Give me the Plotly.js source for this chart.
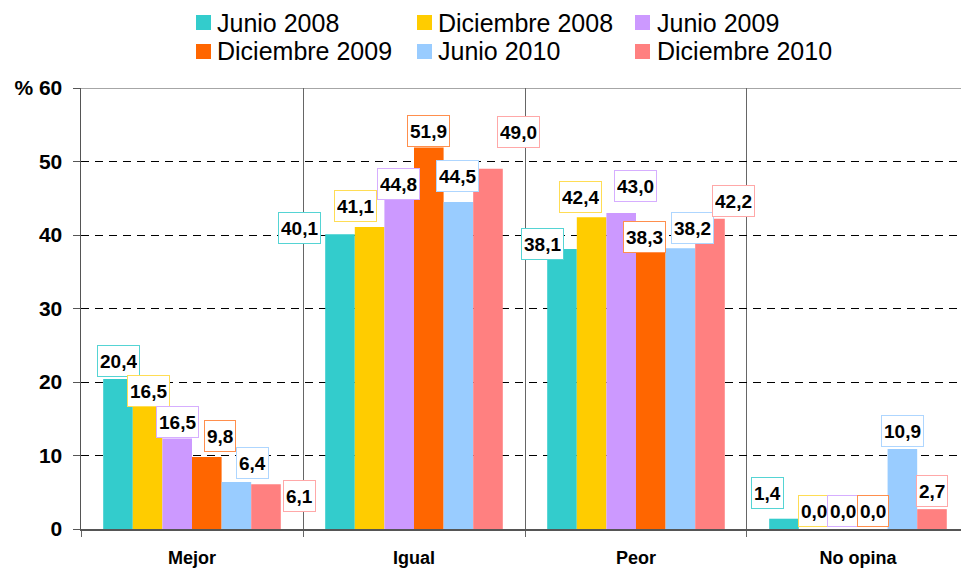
<!DOCTYPE html>
<html>
<head>
<meta charset="utf-8">
<script src="https://cdn.plot.ly/plotly-3.0.1.min.js"></script>
<style>html,body{margin:0;padding:0;background:#fff;}#chart{width:961px;height:569px;}</style>
</head>
<body>
<div id="chart"></div>
<script>
// ---- data ----
var categories = ['Mejor', 'Igual', 'Peor', 'No opina'];
var seriesNames = ['Junio 2008', 'Diciembre 2008', 'Junio 2009', 'Diciembre 2009', 'Junio 2010', 'Diciembre 2010'];
var junio2008 = [20.4, 40.1, 38.1, 1.4];
var diciembre2008 = [16.8, 41.1, 42.4, 0.0];
var junio2009 = [12.3, 44.8, 43.0, 0.0];
var diciembre2009 = [9.8, 51.9, 38.3, 0.0];
var junio2010 = [6.4, 44.5, 38.2, 10.9];
var diciembre2010 = [6.1, 49.0, 42.2, 2.7];
// data label texts as printed on the chart
var labelsJunio2008 = ['20,4', '40,1', '38,1', '1,4'];
var labelsDiciembre2008 = ['16,5', '41,1', '42,4', '0,0'];
var labelsJunio2009 = ['16,5', '44,8', '43,0', '0,0'];
var labelsDiciembre2009 = ['9,8', '51,9', '38,3', '0,0'];
var labelsJunio2010 = ['6,4', '44,5', '38,2', '10,9'];
var labelsDiciembre2010 = ['6,1', '49,0', '42,2', '2,7'];
var yTickVals = [0, 10, 20, 30, 40, 50, 60];
var yTickText = ['0', '10', '20', '30', '40', '50', '% 60'];

// ---- styles / positions ----
var barColors = ['#33CCCC', '#FFCC00', '#CC99FF', '#FF6600', '#99CCFF', '#FF8080'];
var boxColors = ['#55D4D4', '#FFDD55', '#D6AEFF', '#FF8F4D', '#AED6FF', '#FFA8A8'];
// pixel offsets [dx, dy] of each data label box relative to its bar top
var labelOffsets = [
  [[0, 2], [-41, -10], [-20, -11], [-16, 10]],
  [[1, -1], [-14, 5], [-11, 4], [0, 2]],
  [[0, 1], [-1, 0], [14, 11], [0, 2]],
  [[13, 5], [0, 1], [-6, -5], [0, 2]],
  [[16, 3], [-1, 10], [12, 4], [0, 2]],
  [[33, -28], [30, 21], [24, 2], [0, 2]]
];
// legend layout (pixels in the page)
var legendMarkerX = [196, 417, 635, 196, 417, 635];
var legendTextX = [216, 437, 656, 216, 437, 656];
var legendRowY = [22.5, 22.5, 22.5, 51.5, 51.5, 51.5];
var legendMarkerSize = 15;

var plotL = 81, plotR = 961, plotT = 88, plotB = 529;
function pxX(px) { return (px - plotL) / (plotR - plotL); }
function pxY(py) { return (plotB - py) / (plotB - plotT); }

var values = [junio2008, diciembre2008, junio2009, diciembre2009, junio2010, diciembre2010];
var labels = [labelsJunio2008, labelsDiciembre2008, labelsJunio2009, labelsDiciembre2009, labelsJunio2010, labelsDiciembre2010];

var bargap = 0.2;
var nS = seriesNames.length;
var barW = (1 - bargap) / nS;
var labelFont = {family: 'Liberation Sans, Arial, sans-serif', size: 19, color: '#000', weight: 'bold'};

var traces = [];
var annotations = [];
var shapes = [{
  type: 'line', xref: 'paper', yref: 'y', x0: 0, x1: 1, y0: 60, y1: 60,
  line: {color: '#888', width: 1.5}, layer: 'below'
}];
for (var s = 0; s < nS; s++) {
  traces.push({
    type: 'bar',
    name: seriesNames[s],
    x: categories,
    y: values[s],
    marker: {color: barColors[s], line: {width: 0}},
    hoverinfo: 'x+y+name'
  });
  for (var c = 0; c < categories.length; c++) {
    annotations.push({
      x: c - (1 - bargap) / 2 + barW * (s + 0.5),
      y: values[s][c],
      xref: 'x', yref: 'y',
      text: labels[s][c],
      showarrow: false,
      xanchor: 'center', yanchor: 'bottom',
      xshift: labelOffsets[s][c][0],
      yshift: labelOffsets[s][c][1],
      font: labelFont,
      height: 26,
      bgcolor: '#fff',
      bordercolor: boxColors[s],
      borderwidth: 1,
      borderpad: 2
    });
  }
}
for (var k = 0; k < nS; k++) {
  annotations.push({
    xref: 'paper', yref: 'paper',
    x: pxX(legendTextX[k]), y: pxY(legendRowY[k]),
    xanchor: 'left', yanchor: 'middle', align: 'left',
    text: seriesNames[k], showarrow: false,
    font: {family: 'Liberation Sans, Arial, sans-serif', size: 25, color: '#000'},
    borderpad: 0
  });
  shapes.push({
    type: 'rect', xref: 'paper', yref: 'paper',
    x0: pxX(legendMarkerX[k]), x1: pxX(legendMarkerX[k] + legendMarkerSize),
    y0: pxY(legendRowY[k] + legendMarkerSize / 2), y1: pxY(legendRowY[k] - legendMarkerSize / 2),
    fillcolor: barColors[k], line: {width: 0}
  });
}

var layout = {
  width: 961, height: 569,
  margin: {l: plotL, r: 961 - plotR, t: plotT, b: 569 - plotB},
  paper_bgcolor: '#fff', plot_bgcolor: '#fff',
  barmode: 'group',
  bargap: bargap, bargroupgap: 0,
  showlegend: false,
  xaxis: {
    type: 'category',
    range: [-0.5, 3.464],
    tickson: 'boundaries',
    ticks: 'outside', ticklen: 6, tickcolor: '#666', tickwidth: 1,
    showgrid: true, gridcolor: '#666', gridwidth: 1,
    showline: true, linecolor: '#555', linewidth: 1.5,
    tickfont: {family: 'Liberation Sans, Arial, sans-serif', size: 18, color: '#000', weight: 'bold'},
    ticklabelstandoff: 12,
    fixedrange: true
  },
  yaxis: {
    range: [0, 60],
    tickvals: yTickVals, ticktext: yTickText,
    ticks: 'outside', ticklen: 7, tickcolor: '#555', tickwidth: 1,
    showgrid: true, gridcolor: '#000', gridwidth: 1, griddash: '8px,6px',
    zeroline: false,
    showline: true, linecolor: '#555', linewidth: 1.5,
    tickfont: {family: 'Liberation Sans, Arial, sans-serif', size: 21, color: '#000', weight: 'bold'},
    ticklabelstandoff: 6,
    fixedrange: true
  },
  shapes: shapes,
  annotations: annotations
};

Plotly.newPlot('chart', traces, layout, {displayModeBar: false, staticPlot: true});
</script>
</body>
</html>
